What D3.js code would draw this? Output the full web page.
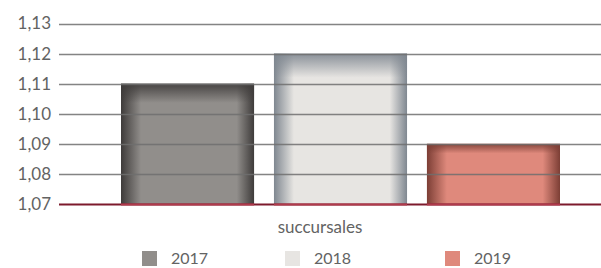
<!DOCTYPE html>
<html><head><meta charset="utf-8">
<script src="https://cdn.jsdelivr.net/npm/d3@7"></script>
<style>body{margin:0;background:#fff}svg{display:block}text{font-family:Lato,"Open Sans",sans-serif;fill:#636363}</style>
</head><body><svg id="c" width="601" height="268"></svg>
<script>
const categories = ["succursales"];
const seriesNames = ["2017","2018","2019"];
const values = [1.11, 1.12, 1.09];
const yTicks = [1.07,1.08,1.09,1.10,1.11,1.12,1.13];
const colors = ["#918e8b","#e7e5e2","#df897c"];
const edgeColors = ["#3e3b3a","#7f8790","#7c3e35"];

const svg = d3.select("#c");
const y = d3.scaleLinear().domain([1.07,1.13]).range([204,23.5]);
const x0 = d3.scaleBand().domain(categories).range([121,560]);
const x1 = d3.scaleBand().domain(seriesNames).range([0,x0.bandwidth()]).paddingInner(0.13);

const defs = svg.append("defs");
seriesNames.forEach((s,i)=>{
  const gh = defs.append("linearGradient").attr("id","gh"+i).attr("x1","0").attr("x2","1").attr("y1","0").attr("y2","0");
  gh.append("stop").attr("offset","0").attr("stop-color",edgeColors[i]);
  gh.append("stop").attr("offset","0.15").attr("stop-color",colors[i]);
  gh.append("stop").attr("offset","0.87").attr("stop-color",colors[i]);
  gh.append("stop").attr("offset","1").attr("stop-color",edgeColors[i]);
  const gv = defs.append("linearGradient").attr("id","gv"+i).attr("x1","0").attr("x2","0").attr("y1","0").attr("y2","1");
  gv.append("stop").attr("offset","0").attr("stop-color",edgeColors[i]).attr("stop-opacity",0.9);
  gv.append("stop").attr("offset","0.16").attr("stop-color",edgeColors[i]).attr("stop-opacity",0);
  gv.append("stop").attr("offset","1").attr("stop-color",edgeColors[i]).attr("stop-opacity",0);
});

// y axis labels
const yAxis = d3.axisLeft(y).tickValues(yTicks).tickSize(0).tickPadding(0)
  .tickFormat(d=>d3.format(".2f")(d).replace(".",","));
const ga = svg.append("g").attr("transform","translate(51,0)").call(yAxis);
ga.select(".domain").remove();
ga.selectAll("text").style("font-family","Lato").style("font-size","17px").style("fill","#636363");

// bars
const bars = svg.append("g");
seriesNames.forEach((s,i)=>{
  const bx = x0(categories[0]) + x1(s);
  const bw = x1.bandwidth();
  const by = y(values[i]);
  const bh = y(1.07) - by;
  bars.append("rect").attr("x",bx).attr("y",by).attr("width",bw).attr("height",bh).attr("fill","url(#gh"+i+")");
  bars.append("rect").attr("x",bx).attr("y",by).attr("width",bw).attr("height",bh).attr("fill","url(#gv"+i+")");
});

// grid lines on top
svg.append("g").selectAll("line").data(yTicks.filter(d=>d>1.07)).join("line")
  .attr("x1",59).attr("x2",601).attr("y1",d=>Math.round(y(d))+0.5).attr("y2",d=>Math.round(y(d))+0.5)
  .attr("stroke","#6f6f6f").attr("stroke-width",1.6).attr("stroke-opacity",0.85);

// baseline
svg.append("line").attr("x1",59).attr("x2",601).attr("y1",y(1.07)+0.5).attr("y2",y(1.07)+0.5)
  .attr("stroke","#7d1a2c").attr("stroke-width",2);
svg.append("g").selectAll("line").data(seriesNames).join("line")
  .attr("x1",s=>x0(categories[0])+x1(s)).attr("x2",s=>x0(categories[0])+x1(s)+x1.bandwidth())
  .attr("y1",y(1.07)+0.5).attr("y2",y(1.07)+0.5)
  .attr("stroke","#b03a4c").attr("stroke-width",2);

// x label
svg.append("text").attr("x",320).attr("y",233).attr("text-anchor","middle").style("font-size","17px").text(categories[0]);

// legend
const legX = [142,285,445];
seriesNames.forEach((s,i)=>{
  svg.append("rect").attr("x",legX[i]).attr("y",251).attr("width",15).attr("height",15).attr("fill",colors[i]);
  svg.append("text").attr("x",legX[i]+29).attr("y",264).style("font-size","16px").text(s);
});
</script></body></html>
